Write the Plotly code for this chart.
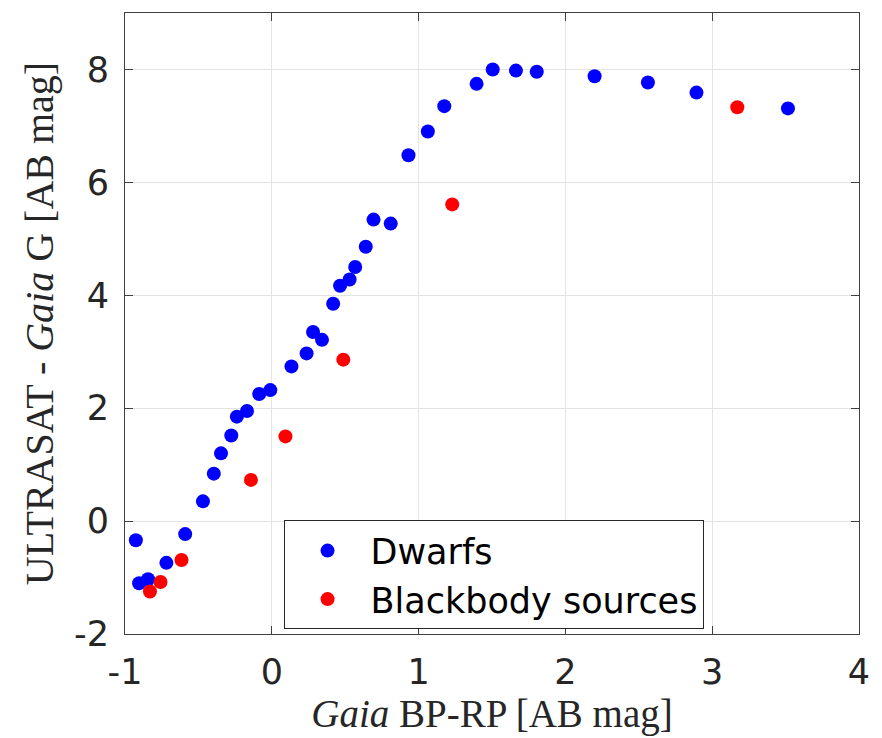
import plotly.graph_objects as go

# Dwarfs (Gaia BP-RP, ULTRASAT - Gaia G)
dwarf_bprp = [-0.926, -0.904, -0.843, -0.718, -0.590, -0.469, -0.395, -0.346, -0.276,
              -0.238, -0.169, -0.086, -0.010, 0.134, 0.237, 0.281, 0.342, 0.418,
              0.465, 0.530, 0.568, 0.640, 0.693, 0.810, 0.931, 1.063, 1.175,
              1.395, 1.505, 1.663, 1.805, 2.199, 2.562, 2.893, 3.516]
dwarf_color = [-0.34, -1.10, -1.03, -0.74, -0.23, 0.35, 0.84, 1.20, 1.515,
               1.85, 1.95, 2.25, 2.32, 2.74, 2.97, 3.35, 3.21, 3.85,
               4.17, 4.28, 4.50, 4.86, 5.34, 5.27, 6.48, 6.90, 7.35,
               7.745, 8.00, 7.98, 7.96, 7.88, 7.77, 7.59, 7.31]

# Blackbody sources
bb_bprp = [-0.830, -0.758, -0.615, -0.142, 0.093, 0.487, 1.229, 3.171]
bb_color = [-1.246, -1.08, -0.69, 0.73, 1.50, 2.86, 5.61, 7.33]

x_ticks = [-1, 0, 1, 2, 3, 4]
y_ticks = [-2, 0, 2, 4, 6, 8]

fig = go.Figure()
fig.add_trace(go.Scatter(x=dwarf_bprp, y=dwarf_color, mode="markers", name="Dwarfs",
                         marker=dict(color="#0000FF", size=14, line=dict(width=0))))
fig.add_trace(go.Scatter(x=bb_bprp, y=bb_color, mode="markers", name="Blackbody sources",
                         marker=dict(color="#FF0000", size=14, line=dict(width=0))))

axis_common = dict(
    showline=True, linecolor="#404040", linewidth=1, mirror="allticks",
    ticks="inside", ticklen=8, tickcolor="#404040", tickwidth=1,
    showgrid=True, gridcolor="#e3e3e3", gridwidth=1, zeroline=False,
    tickfont=dict(family="DejaVu Sans", size=35, color="#262626"),
)

fig.update_layout(
    width=882, height=738,
    margin=dict(l=125, r=13, t=12, b=104),
    paper_bgcolor="white", plot_bgcolor="white",
    xaxis=dict(range=[-1, 4], tickvals=x_ticks, ticktext=[str(v) for v in x_ticks],
               ticklabelstandoff=7,
               title=dict(text="<i>Gaia</i> BP-RP [AB mag]", standoff=2,
                          font=dict(family="Liberation Serif", size=39, color="#262626")),
               **axis_common),
    yaxis=dict(range=[-2, 9], tickvals=y_ticks, ticktext=[str(v) for v in y_ticks],
               ticklabelstandoff=8,
               title=dict(text="ULTRASAT - <i>Gaia</i> G [AB mag]", standoff=8,
                          font=dict(family="Liberation Serif", size=40, color="#262626")),
               **axis_common),
    legend=dict(x=0.216, y=0.183, xanchor="left", yanchor="top",
                bgcolor="white", bordercolor="#262626", borderwidth=1,
                font=dict(family="DejaVu Sans", size=35, color="black"),
                itemwidth=76),
    showlegend=True,
)

fig.write_html("out.html")
